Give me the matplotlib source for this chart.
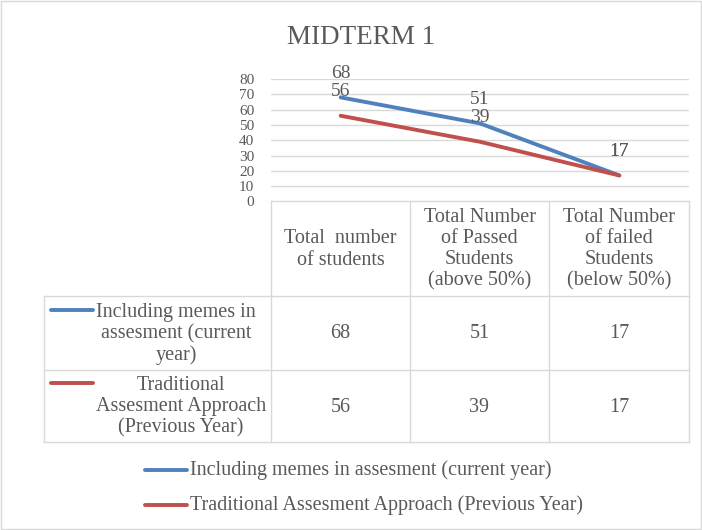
import matplotlib.pyplot as plt
from matplotlib.patches import Rectangle

plt.rcParams['font.family'] = ['Liberation Serif', 'DejaVu Serif']

categories = ['Total  number\nof students',
              'Total Number\nof Passed\nStudents\n(above 50%)',
              'Total Number\nof failed\nStudents\n(below 50%)']
series_names = ['Including memes in assesment (current year)',
                'Traditional Assesment Approach (Previous Year)']
row_labels = ['Including memes in\nassesment (current\nyear)',
              'Traditional\nAssesment Approach\n(Previous Year)']
memes = [68, 51, 17]
traditional = [56, 39, 17]
yticks = [0, 10, 20, 30, 40, 50, 60, 70, 80]

blue = '#4F81BD'
red = '#C0504D'
txt = '#595959'
grid = '#D9D9D9'

W, H = 702, 530
fig = plt.figure(figsize=(W / 100, H / 100), dpi=100)

# overlay in pixel coordinates for the data table and frame
ov = fig.add_axes([0, 0, 1, 1])
ov.set_xlim(0, W)
ov.set_ylim(H, 0)
ov.axis('off')

# plot area
x0, x1, ytop, ybot = 271, 689, 79, 201.5
ax = fig.add_axes([x0 / W, (H - ybot) / H, (x1 - x0) / W, (ybot - ytop) / H])
ax.set_xlim(-0.5, 2.5)
ax.set_ylim(0, 80)
ax.set_yticks(yticks)
ax.set_xticks([])
ax.grid(axis='y', color=grid, lw=1)
ax.set_axisbelow(True)
for s in ax.spines.values():
    s.set_visible(False)
ax.tick_params(axis='y', length=0, labelsize=11, labelcolor=txt, pad=12)
ax.set_facecolor('none')

xs = range(len(categories))
ax.plot(xs, memes, color=blue, lw=2.8, solid_capstyle='round', label=series_names[0])
ax.plot(xs, traditional, color=red, lw=2.8, solid_capstyle='round', label=series_names[1])
for x, v in zip(xs, memes):
    ax.annotate(str(v), (x, v), xytext=(0, 17.5), textcoords='offset points',
                ha='center', va='center', fontsize=14, color=txt)
for x, v in zip(xs, traditional):
    ax.annotate(str(v), (x, v), xytext=(0, 17.5), textcoords='offset points',
                ha='center', va='center', fontsize=14, color=txt)

fig.text(361 / W, 1 - 38 / H, 'MIDTERM 1', ha='center', va='center',
         fontsize=19.5, color=txt)

# data table
cols = [271, 410, 549, 689]
rows = [201, 296, 370, 442]
ov.plot([cols[0], cols[-1]], [rows[0], rows[0]], color=grid, lw=1)
for y in rows[1:]:
    ov.plot([44, cols[-1]], [y, y], color=grid, lw=1)
for c in cols:
    ov.plot([c, c], [rows[0], rows[-1]], color=grid, lw=1)
ov.plot([44, 44], [rows[1], rows[-1]], color=grid, lw=1)

fs = 14.5
ls = 1.15
for i, cat in enumerate(categories):
    ov.text((cols[i] + cols[i + 1]) / 2, (rows[0] + rows[1]) / 2 + 1, cat,
            ha='center', va='center', fontsize=fs, color=txt, linespacing=ls)
colors = [blue, red]
vals = [memes, traditional]
label_cx = [176, 181]
key_y = [310, 383]
for r in range(2):
    ym = (rows[r + 1] + rows[r + 2]) / 2 + 1
    ov.text(label_cx[r], ym, row_labels[r], ha='center', va='center',
            fontsize=fs, color=txt, linespacing=ls)
    ov.plot([51, 93], [key_y[r], key_y[r]], color=colors[r], lw=2.8,
            solid_capstyle='round')
    for i, v in enumerate(vals[r]):
        ov.text((cols[i] + cols[i + 1]) / 2, ym, str(v), ha='center',
                va='center', fontsize=fs, color=txt)

# legend below
leg_y = [470, 505]
for r in range(2):
    ov.plot([145, 187], [leg_y[r], leg_y[r]], color=colors[r], lw=2.8,
            solid_capstyle='round')
    ov.text(190, leg_y[r], series_names[r], ha='left', va='center',
            fontsize=fs, color=txt)

ov.add_patch(Rectangle((0.5, 0.5), W - 2, H - 2, fill=False, ec=grid, lw=1))

fig.savefig('out.png', dpi=100)
